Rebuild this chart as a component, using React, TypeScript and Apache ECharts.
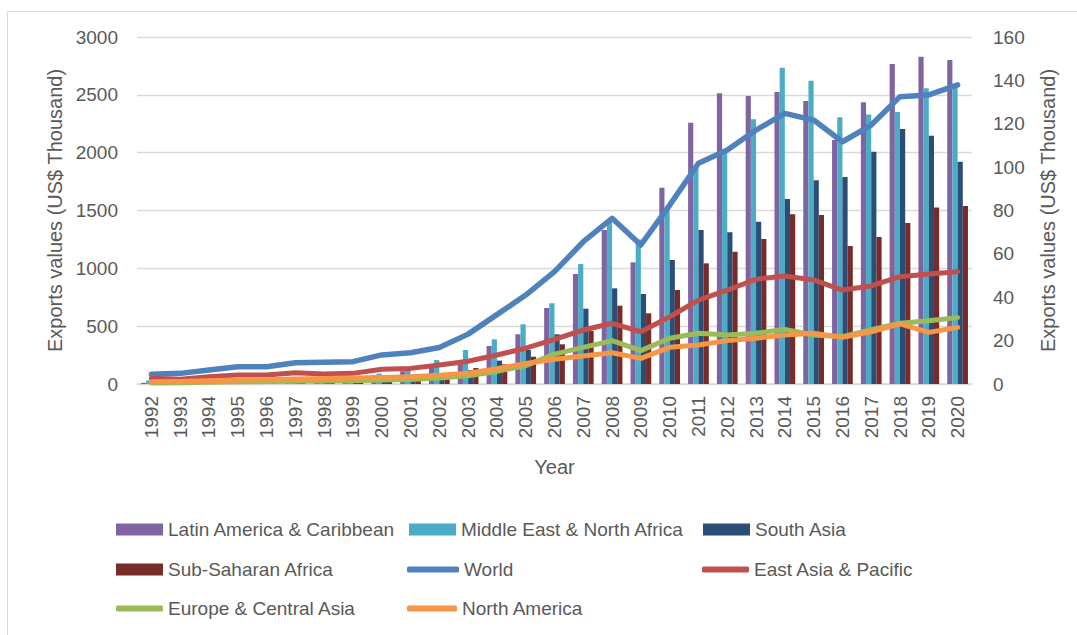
import React, { useEffect, useRef } from "react";
import * as echarts from "echarts";

const years = [
  "1992", "1993", "1994", "1995", "1996", "1997", "1998", "1999", "2000", "2001",
  "2002", "2003", "2004", "2005", "2006", "2007", "2008", "2009", "2010", "2011",
  "2012", "2013", "2014", "2015", "2016", "2017", "2018", "2019", "2020",
];

const leftTicks = { min: 0, max: 3000, interval: 500 };
const rightTicks = { min: 0, max: 160, interval: 20 };

// Bars (left axis)
const latinAmerica = [10, 12, 15, 20, 25, 30, 35, 40, 70, 110, 150, 207, 329, 430, 657, 951, 1331, 1052, 1697, 2259, 2513, 2490, 2525, 2447, 2110, 2436, 2767, 2830, 2801];
const middleEast = [30, 25, 30, 35, 40, 45, 50, 55, 90, 150, 207, 294, 386, 516, 698, 1037, 1403, 1250, 1500, 1880, 2000, 2289, 2735, 2622, 2306, 2329, 2352, 2556, 2580];
const southAsia = [3, 4, 5, 6, 8, 10, 12, 15, 30, 45, 70, 121, 202, 294, 430, 651, 827, 778, 1072, 1331, 1312, 1403, 1600, 1761, 1790, 2009, 2205, 2147, 1922];
const subSaharan = [3, 4, 5, 6, 7, 9, 11, 13, 25, 40, 60, 138, 170, 236, 343, 458, 677, 611, 813, 1043, 1144, 1254, 1467, 1461, 1193, 1271, 1392, 1525, 1539];

// Lines (right axis)
const world = [4.5, 4.9, 6.5, 8.0, 8.0, 9.8, 10.0, 10.3, 13.4, 14.4, 16.8, 23.0, 32.0, 41.0, 51.8, 65.6, 76.4, 64.1, 82.5, 101.8, 107.9, 117.1, 124.8, 121.7, 111.7, 119.4, 132.5, 133.3, 137.9];
const eastAsia = [2.6, 2.2, 3.4, 4.1, 4.1, 5.2, 4.6, 4.9, 6.8, 7.2, 8.8, 10.5, 13.4, 16.5, 20.6, 24.9, 28.0, 24.1, 31.0, 38.7, 43.3, 48.3, 49.8, 48.0, 43.3, 45.2, 49.5, 50.7, 51.8];
const europe = [0.5, 0.6, 0.8, 1.0, 1.1, 1.3, 1.4, 1.5, 1.8, 2.1, 2.8, 3.8, 5.8, 8.5, 13.8, 16.9, 20.0, 15.4, 21.1, 23.4, 22.6, 23.4, 25.2, 22.6, 21.8, 25.0, 28.0, 29.2, 30.6];
const northAmerica = [1.0, 1.2, 1.5, 1.8, 2.0, 2.3, 2.5, 2.8, 3.0, 3.3, 4.0, 5.0, 7.0, 9.5, 11.4, 12.9, 14.4, 11.8, 16.9, 18.0, 20.0, 21.1, 22.6, 23.4, 21.5, 24.1, 27.7, 23.8, 26.1];

const barNames = ["Latin America & Caribbean", "Middle East & North Africa", "South Asia", "Sub-Saharan Africa"];
const lineNames = ["World", "East Asia & Pacific", "Europe & Central Asia", "North America"];
const axisTitle = "Exports values (US$ Thousand)";
const xTitle = "Year";

const FONT = "'Liberation Sans', Arial, sans-serif";
const TEXT = "#595959";
const GRID = "#D9D9D9";

export default function App() {
  const ref = useRef<HTMLDivElement>(null);
  useEffect(() => {
    const chart = echarts.init(ref.current!, null, { renderer: "svg" });
    const barColors = ["#8064A2", "#4BACC6", "#2C4D75", "#772C2A"];
    const lineColors = ["#4F81BD", "#C0504D", "#9BBB59", "#F79646"];
    const barData = [latinAmerica, middleEast, southAsia, subSaharan];
    const lineData = [world, eastAsia, europe, northAmerica];

    const legendSpec: { name: string; left: number; row: number; line: boolean; w: number }[] = [
      { name: barNames[0], left: 116, row: 0, line: false, w: 47 },
      { name: barNames[1], left: 409, row: 0, line: false, w: 47 },
      { name: barNames[2], left: 703, row: 0, line: false, w: 47 },
      { name: barNames[3], left: 116, row: 1, line: false, w: 47 },
      { name: lineNames[0], left: 407, row: 1, line: true, w: 52 },
      { name: lineNames[1], left: 702, row: 1, line: true, w: 47 },
      { name: lineNames[2], left: 116, row: 2, line: true, w: 47 },
      { name: lineNames[3], left: 407, row: 2, line: true, w: 50 },
    ];
    const rowY = [530, 570, 609];

    chart.setOption({
      animation: false,
      textStyle: { fontFamily: FONT },
      graphic: [
        {
          type: "rect",
          silent: true,
          shape: { x: 7.5, y: 11.5, width: 1090, height: 650 },
          style: { fill: "none", stroke: GRID, lineWidth: 1 },
        },
      ],
      grid: { left: 137, right: 105, top: 37, bottom: 251 },
      legend: legendSpec.map((l) => ({
        left: l.left,
        top: rowY[l.row] - 10,
        padding: 0,
        orient: "horizontal",
        selectedMode: false,
        itemWidth: l.w,
        itemHeight: l.line ? 6 : 12,
        textStyle: { fontSize: 19, color: TEXT, fontFamily: FONT },
        data: [{ name: l.name, icon: l.line ? "roundRect" : "rect" }],
      })),
      xAxis: {
        type: "category",
        data: years,
        name: xTitle,
        nameLocation: "middle",
        nameGap: 73,
        nameTextStyle: { fontSize: 20, color: TEXT },
        axisLine: { lineStyle: { color: GRID, width: 1.5 } },
        axisTick: { show: false },
        axisLabel: { rotate: 90, fontSize: 19, color: TEXT, margin: 12, interval: 0 },
      },
      yAxis: [
        {
          type: "value",
          ...leftTicks,
          name: axisTitle,
          nameLocation: "middle",
          nameRotate: 90,
          nameGap: 70,
          nameTextStyle: { fontSize: 20, color: TEXT },
          axisLine: { show: false },
          axisTick: { show: false },
          axisLabel: { fontSize: 19, color: TEXT, margin: 19, formatter: (v: number) => String(v) },
          splitLine: { lineStyle: { color: GRID, width: 1.3 } },
        },
        {
          type: "value",
          ...rightTicks,
          name: axisTitle,
          nameLocation: "middle",
          nameRotate: 90,
          nameGap: 66,
          nameTextStyle: { fontSize: 20, color: TEXT },
          axisLine: { show: false },
          axisTick: { show: false },
          axisLabel: { fontSize: 19, color: TEXT, margin: 21, formatter: (v: number) => String(v) },
          splitLine: { show: false },
        },
      ],
      series: [
        ...barNames.map((name, i) => ({
          name,
          type: "bar",
          yAxisIndex: 0,
          data: barData[i],
          barGap: "0%",
          barCategoryGap: "28%",
          itemStyle: { color: barColors[i] },
        })),
        ...lineNames.map((name, i) => ({
          name,
          type: "line",
          yAxisIndex: 1,
          data: lineData[i],
          symbol: "none",
          itemStyle: { color: lineColors[i] },
          lineStyle: { color: lineColors[i], width: i === 0 ? 5.5 : 5, cap: "round", join: "round" },
        })),
      ],
    });
    return () => chart.dispose();
  }, []);
  return (
    <div
      ref={ref}
      style={{ position: "fixed", left: 0, top: 0, width: 1077, height: 635, background: "#fff" }}
    />
  );
}
